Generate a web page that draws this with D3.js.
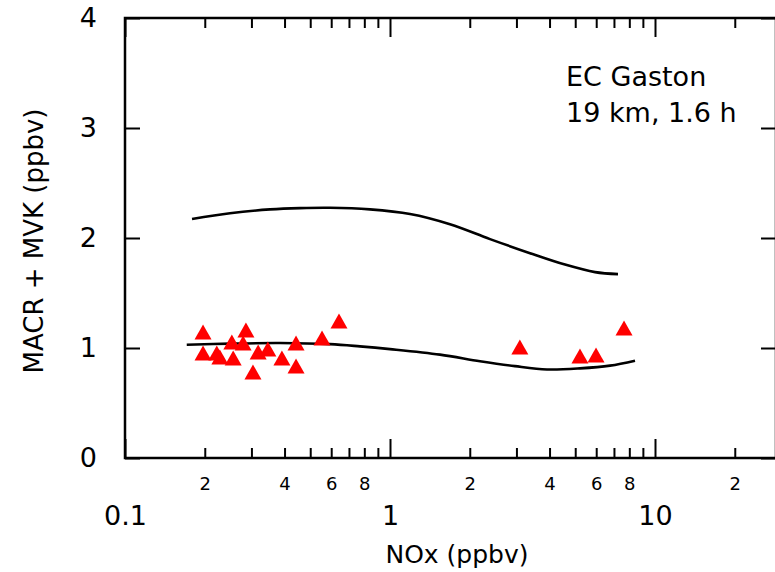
<!DOCTYPE html>
<html>
<head>
<meta charset="utf-8">
<script src="https://cdn.jsdelivr.net/npm/d3@7"></script>
<style>
  html, body { margin: 0; padding: 0; background: #fff; }
  svg { display: block; }
  text { font-family: "DejaVu Sans", sans-serif; fill: #000; }
</style>
</head>
<body>
<svg id="chart" width="775" height="572"></svg>
<script>
// ---- data ----
const obsNOx = [0.197, 0.197, 0.222, 0.228, 0.253, 0.256, 0.279, 0.286, 0.318, 0.304, 0.346, 0.391, 0.442, 0.442, 0.554, 0.642, 3.09, 5.21, 5.99, 7.64];
const obsMV  = [1.145, 0.955, 0.955, 0.918, 1.055, 0.909, 1.045, 1.164, 0.964, 0.782, 0.991, 0.909, 1.045, 0.836, 1.091, 1.245, 1.009, 0.927, 0.936, 1.182];

const upperNOx = [0.179, 0.249, 0.3525, 0.4575, 0.594, 0.84, 1.19, 1.684, 2.385, 3.376, 4.575, 5.94, 7.25];
const upperMV  = [2.173, 2.225, 2.26, 2.272, 2.275, 2.26, 2.218, 2.125, 1.99, 1.862, 1.758, 1.69, 1.672];

const lowerNOx = [0.171, 0.25, 0.385, 0.594, 0.77, 1.0, 1.544, 2.186, 2.962, 3.912, 5.212, 6.764, 8.405];
const lowerMV  = [1.03, 1.04, 1.045, 1.035, 1.015, 0.99, 0.94, 0.88, 0.835, 0.805, 0.815, 0.84, 0.885];

const xMajorTicks = [0.1, 1, 10];
const xMajorLabels = ["0.1", "1", "10"];
const xMinorTicks = [0.2,0.3,0.4,0.5,0.6,0.7,0.8,0.9, 2,3,4,5,6,7,8,9, 20];
const xMinorLabelled = [0.2,0.4,0.6,0.8, 2,4,6,8, 20];
const yTicks = [0, 1, 2, 3, 4];

const annotation = ["EC Gaston", "19 km, 1.6 h"];
const xTitle = "NOx (ppbv)";
const yTitle = "MACR + MVK (ppbv)";

// ---- layout ----
const L = 125, R = 776, T = 18, B = 458;
const svg = d3.select("#chart");

const x = d3.scaleLog().domain([0.1, 0.1 * Math.pow(10, (R - L) / 265)]).range([L, R]);
const y = d3.scaleLinear().domain([0, 4]).range([B, T]);

// frame
svg.append("rect").attr("x", L).attr("y", T).attr("width", R - L).attr("height", B - T)
  .attr("fill", "none").attr("stroke", "#000").attr("stroke-width", 2.5);

function styleAxis(g) {
  g.select(".domain").remove();
  g.selectAll(".tick line").attr("stroke", "#000").attr("stroke-width", 2);
}

// bottom minor
svg.append("g").attr("transform", `translate(0,${B})`)
  .call(d3.axisBottom(x).tickValues(xMinorTicks).tickSize(-10).tickPadding(19)
    .tickFormat(d => xMinorLabelled.includes(d) ? String(Math.round(d / Math.pow(10, Math.floor(Math.log10(d) + 1e-9)))) : ""))
  .call(styleAxis)
  .call(g => g.selectAll("text").attr("font-size", 18).attr("font-family", "DejaVu Sans"));
// bottom major
svg.append("g").attr("transform", `translate(0,${B})`)
  .call(d3.axisBottom(x).tickValues(xMajorTicks).tickSize(-19).tickPadding(48)
    .tickFormat((d, i) => xMajorLabels[i]))
  .call(styleAxis)
  .call(g => g.selectAll("text").attr("font-size", 27).attr("font-family", "DejaVu Sans"));
// top minor/major
svg.append("g").attr("transform", `translate(0,${T})`)
  .call(d3.axisTop(x).tickValues(xMinorTicks).tickSize(-10).tickFormat(""))
  .call(styleAxis);
svg.append("g").attr("transform", `translate(0,${T})`)
  .call(d3.axisTop(x).tickValues(xMajorTicks).tickSize(-19).tickFormat(""))
  .call(styleAxis);
// left
svg.append("g").attr("transform", `translate(${L},0)`)
  .call(d3.axisLeft(y).tickValues(yTicks).tickSize(-15).tickPadding(28).tickFormat(d3.format("d")))
  .call(styleAxis)
  .call(g => g.selectAll("text").attr("font-size", 27).attr("font-family", "DejaVu Sans"));
// right
svg.append("g").attr("transform", `translate(${R},0)`)
  .call(d3.axisRight(y).tickValues(yTicks).tickSize(-15).tickFormat(""))
  .call(styleAxis);

// curves
const line = d3.line().x(d => x(d[0])).y(d => y(d[1])).curve(d3.curveCatmullRom.alpha(0.5));
svg.append("path").datum(d3.zip(upperNOx, upperMV)).attr("d", line)
  .attr("fill", "none").attr("stroke", "#000").attr("stroke-width", 2.6);
svg.append("path").datum(d3.zip(lowerNOx, lowerMV)).attr("d", line)
  .attr("fill", "none").attr("stroke", "#000").attr("stroke-width", 2.6);

// triangles (centred on bounding box)
const tw = 17, th = 15;
svg.append("g").selectAll("path").data(d3.zip(obsNOx, obsMV)).join("path")
  .attr("d", d => {
    const cx = x(d[0]), cy = y(d[1]);
    return `M${cx},${cy - th / 2}L${cx + tw / 2},${cy + th / 2}L${cx - tw / 2},${cy + th / 2}Z`;
  })
  .attr("fill", "#ff0000");

// annotation
svg.append("text").attr("x", 566).attr("y", 86).attr("font-size", 27).text(annotation[0]);
svg.append("text").attr("x", 566).attr("y", 122).attr("font-size", 27).text(annotation[1]);

// titles
svg.append("text").attr("x", 457).attr("y", 563).attr("text-anchor", "middle").attr("font-size", 25).text(xTitle);
svg.append("text").attr("transform", `translate(43,241) rotate(-90)`).attr("text-anchor", "middle")
  .attr("font-size", 26).text(yTitle);
</script>
</body>
</html>
